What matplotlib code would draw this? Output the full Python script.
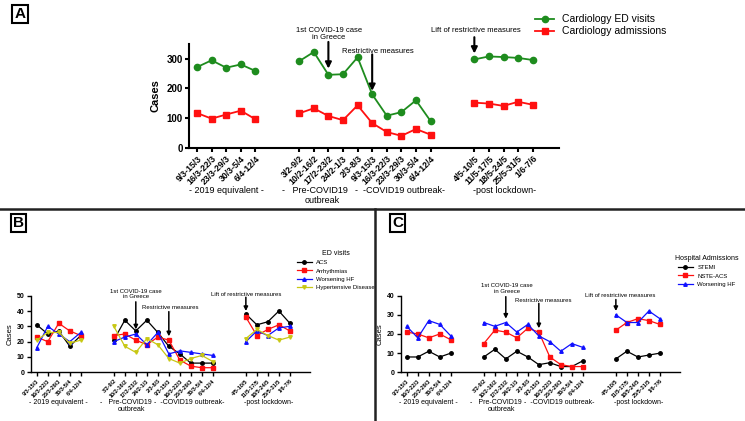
import numpy as np
import matplotlib.pyplot as plt
from matplotlib.lines import Line2D

plt.rcParams['font.family'] = ['Liberation Sans', 'DejaVu Sans']

# Week labels for the three periods
weeks_2019 = ['9/3-15/3', '16/3-22/3', '23/3-29/3', '30/3-5/4', '6/4-12/4']
weeks_2020 = ['3/2-9/2', '10/2-16/2', '17/2-23/2', '24/2-1/3', '2/3-8/3',
              '9/3-15/3', '16/3-22/3', '23/3-29/3', '30/3-5/4', '6/4-12/4']
weeks_post = ['4/5-10/5', '11/5-17/5', '18/5-24/5', '25/5-31/5', '1/6-7/6']

# Panel A
ed_visits = [272, 295, 270, 281, 259,
             292, 323, 246, 248, 305, 180, 108, 120, 160, 90,
             298, 308, 306, 303, 296]
admissions = [117, 98, 112, 125, 96,
              116, 133, 107, 93, 143, 83, 53, 40, 63, 44,
              152, 149, 141, 155, 145]

# Panel B (ED visits)
b_acs = [31, 25, 27, 17, 24,
         21, 34, 27, 34, 26, 17, 12, 6, 6, 6,
         38, 31, 33, 40, 32]
b_arrhythmias = [23, 20, 32, 27, 24,
                 24, 25, 21, 18, 23, 21, 8, 4, 3, 3,
                 36, 24, 28, 31, 27]
b_hf = [16, 30, 25, 20, 26,
        20, 23, 25, 18, 26, 12, 14, 13, 12, 11,
        20, 27, 24, 29, 30]
b_hypertensive = [21, 26, 26, 19, 21,
                  30, 17, 13, 22, 18, 9, 6, 9, 11, 7,
                  22, 28, 24, 21, 23]

# Panel C (hospital admissions)
c_stemi = [8, 8, 11, 8, 10,
           8, 12, 7, 11, 8, 4, 5, 3, 3, 6,
           7, 11, 8, 9, 10]
c_nste = [21, 20, 18, 20, 17,
          15, 22, 21, 18, 23, 21, 8, 4, 3, 3,
          22, 26, 28, 27, 25]
c_hf = [24, 18, 27, 25, 19,
        26, 24, 26, 21, 25, 19, 16, 11, 15, 13,
        30, 26, 26, 32, 28]

# x positions: groups separated by gaps
gx = [np.arange(0, 5), np.arange(7, 17), np.arange(19, 24)]
all_x = np.concatenate(gx)
all_labels = weeks_2019 + weeks_2020 + weeks_post
splits = [(0, 5), (5, 15), (15, 20)]


def draw_series(ax, vals, color, marker, ms, lw, label):
    for i, (a, b) in enumerate(splits):
        ax.plot(gx[i], vals[a:b], color=color, marker=marker, ms=ms, lw=lw,
                label=label if i == 0 else None)


def style_axes(ax, ymax, ystep, tfs, yfs, gfs, spw, gy, gdy):
    ax.set_xlim(-0.55, 24.8)
    ax.set_ylim(0, ymax)
    ax.set_yticks(np.arange(0, ymax + 1, ystep))
    ax.set_xticks(all_x)
    ax.set_xticklabels(all_labels, rotation=45, ha='right', va='top',
                       rotation_mode='anchor', fontweight='bold', fontsize=tfs)
    for t in ax.get_yticklabels():
        t.set_fontweight('bold')
        t.set_fontsize(yfs)
    ax.spines['top'].set_visible(False)
    ax.spines['right'].set_visible(False)
    ax.spines['left'].set_linewidth(spw)
    ax.spines['bottom'].set_linewidth(spw)
    ax.tick_params(width=spw, length=3, pad=1.5)
    tr = ax.get_xaxis_transform()
    ax.text(2, gy, '- 2019 equivalent -', transform=tr, ha='center', va='center', fontsize=gfs)
    ax.text(8.1, gy, '-   Pre-COVID19', transform=tr, ha='center', va='center', fontsize=gfs)
    ax.text(8.6, gy - gdy, 'outbreak', transform=tr, ha='center', va='center', fontsize=gfs)
    ax.text(13.9, gy, '-  -COVID19 outbreak-', transform=tr, ha='center', va='center', fontsize=gfs)
    ax.text(21.1, gy, '-post lockdown-', transform=tr, ha='center', va='center', fontsize=gfs)


def add_arrow(ax, x, y0, y1, lw, ms):
    ax.annotate('', xy=(x, y1), xytext=(x, y0), annotation_clip=False,
                arrowprops=dict(arrowstyle='-|>', color='black', lw=lw,
                                mutation_scale=ms, shrinkA=0, shrinkB=0))


fig = plt.figure(figsize=(7.45, 4.21), dpi=100)

# ---- Panel A ----
axA = fig.add_axes([189 / 745, 1 - 147.7 / 421, 370 / 745, 103.7 / 421])
draw_series(axA, ed_visits, '#1e8c1e', 'o', 4.5, 1.3, 'Cardiology ED visits')
draw_series(axA, admissions, '#ff1010', 's', 4.5, 1.3, 'Cardiology admissions')
style_axes(axA, 350, 100, 6.3, 7, 6.5, 1.5, -0.41, 0.095)
axA.set_yticks([0, 100, 200, 300])
axA.set_ylabel('Cases', fontweight='bold', fontsize=8, labelpad=4)
axA.text(9.05, 383, '1st COVID-19 case\nin Greece', ha='center', va='center', fontsize=5.5, linespacing=1.1)
add_arrow(axA, 9, 357, 267, 1.5, 9)
axA.text(12.4, 326, 'Restrictive measures', ha='center', va='center', fontsize=5.5)
add_arrow(axA, 12, 315, 192, 1.5, 9)
axA.text(19.1, 394, 'Lift of restrictive measures', ha='center', va='center', fontsize=5.5)
add_arrow(axA, 19, 373, 318, 1.5, 9)
axA.legend(loc='upper left', bbox_to_anchor=(528 / 745, 1 - 7 / 421),
           bbox_transform=fig.transFigure, frameon=False, fontsize=7.5,
           handlelength=1.8, labelspacing=0.2, borderpad=0.2)

# ---- Panel B ----
axB = fig.add_axes([30.7 / 745, 1 - 372.3 / 421, 279 / 745, 76.6 / 421])
draw_series(axB, b_acs, 'black', 'o', 2.5, 0.9, 'ACS')
draw_series(axB, b_arrhythmias, '#ff1010', 's', 2.5, 0.9, 'Arrhythmias')
draw_series(axB, b_hf, '#1010ff', '^', 2.5, 0.9, 'Worsening HF')
draw_series(axB, b_hypertensive, '#c8c814', 'v', 2.5, 0.9, 'Hypertensive Disease')
style_axes(axB, 50, 10, 4, 5, 5, 1.0, -0.40, 0.085)
axB.set_ylabel('Cases', fontsize=5.5, labelpad=2)
axB.text(9.05, 51, '1st COVID-19 case\nin Greece', ha='center', va='center', fontsize=4.3, linespacing=1.1)
add_arrow(axB, 9, 46, 28, 1.1, 6)
axB.text(12.1, 42, 'Restrictive measures', ha='center', va='center', fontsize=4.3)
add_arrow(axB, 12, 39.6, 23.5, 1.1, 6)
axB.text(19.05, 51, 'Lift of restrictive measures', ha='center', va='center', fontsize=4.3)
add_arrow(axB, 19, 49, 40, 1.1, 6)
axB.legend(loc='upper left', bbox_to_anchor=(293 / 745, 1 - 246 / 421),
           bbox_transform=fig.transFigure, frameon=False, fontsize=4.3,
           title='ED visits', title_fontsize=5, handlelength=2.4,
           labelspacing=0.5, borderpad=0.2)

# ---- Panel C ----
axC = fig.add_axes([400.7 / 745, 1 - 372.3 / 421, 279 / 745, 76.6 / 421])
draw_series(axC, c_stemi, 'black', 'o', 2.5, 0.9, 'STEMI')
draw_series(axC, c_nste, '#ff1010', 's', 2.5, 0.9, 'NSTE-ACS')
draw_series(axC, c_hf, '#1010ff', '^', 2.5, 0.9, 'Worsening HF')
style_axes(axC, 40, 10, 4, 5, 5, 1.0, -0.40, 0.085)
axC.set_ylabel('Cases', fontsize=5.5, labelpad=2)
axC.text(9.1, 43.7, '1st COVID-19 case\nin Greece', ha='center', va='center', fontsize=4.3, linespacing=1.1)
add_arrow(axC, 9, 39.5, 28, 1.1, 6)
axC.text(12.4, 37.7, 'Restrictive measures', ha='center', va='center', fontsize=4.3)
add_arrow(axC, 12, 36, 23, 1.1, 6)
axC.text(19.4, 40.3, 'Lift of restrictive measures', ha='center', va='center', fontsize=4.3)
add_arrow(axC, 19, 38, 32, 1.1, 6)
axC.legend(loc='upper left', bbox_to_anchor=(671 / 745, 1 - 251 / 421),
           bbox_transform=fig.transFigure, frameon=False, fontsize=4.3,
           title='Hospital Admissions', title_fontsize=5, handlelength=2.4,
           labelspacing=0.5, borderpad=0.2)

# Panel letters
for lab, (px, py) in {'A': (20, 14), 'B': (18.5, 223), 'C': (397.5, 223)}.items():
    fig.text(px / 745, 1 - py / 421, lab, ha='center', va='center', fontsize=11,
             fontweight='bold',
             bbox=dict(boxstyle='square,pad=0.15', fc='white', ec='black', lw=1.5))

# Divider lines
fig.add_artist(Line2D([0, 1], [1 - 209 / 421, 1 - 209 / 421], color='#222222', lw=1.8))
fig.add_artist(Line2D([375 / 745, 375 / 745], [0, 1 - 209 / 421], color='#222222', lw=1.8))

fig.savefig('out.png', dpi=100)
